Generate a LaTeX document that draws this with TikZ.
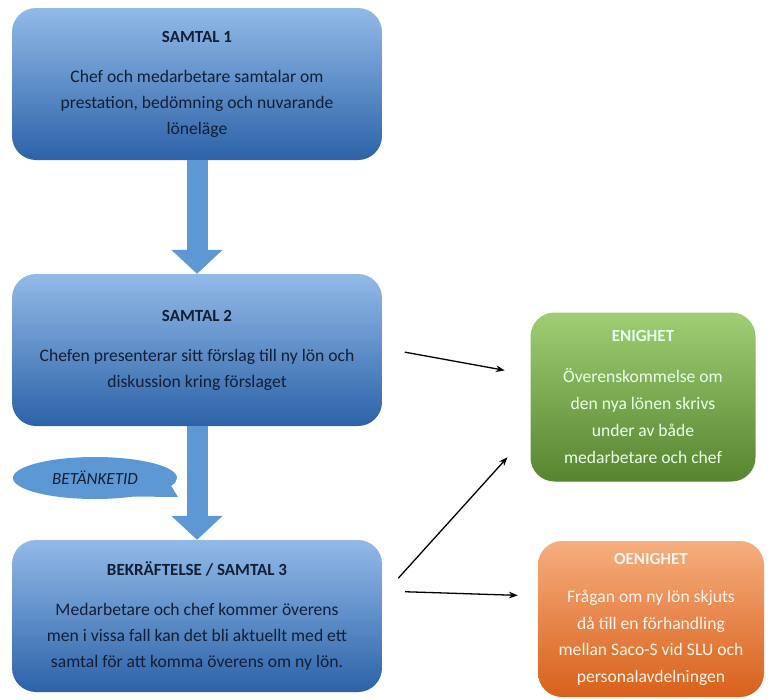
\documentclass[tikz,border=0pt]{standalone}
\usepackage{fontspec}
\setmainfont{Carlito}
\usetikzlibrary{arrows.meta, positioning, shapes.callouts}
\definecolor{mytop}{RGB}{146,186,232}
\definecolor{mybot}{RGB}{44,98,168}
\definecolor{mynavy}{RGB}{20,30,52}
\definecolor{myarrow}{RGB}{93,152,212}
\definecolor{grntop}{RGB}{160,206,116}
\definecolor{grnbot}{RGB}{86,132,48}
\definecolor{orgtop}{RGB}{246,174,126}
\definecolor{orgbot}{RGB}{216,96,26}
\newcommand{\hd}[1]{{\fontsize{17}{26}\selectfont\bfseries #1}}
\tikzset{
  block/.style={rectangle, top color=mytop, bottom color=mybot,
    text=mynavy, minimum width=370pt, minimum height=152pt,
    align=center, font=\fontsize{17.6}{26}\selectfont, rounded corners=24pt},
  greenblock/.style={rectangle, top color=grntop, bottom color=grnbot,
    text=white!92!green, minimum width=225pt, minimum height=169pt,
    align=center, font=\fontsize{17.6}{27}\selectfont, rounded corners=24pt},
  orangeblock/.style={rectangle, top color=orgtop, bottom color=orgbot,
    text=white!92!orange, minimum width=226pt, minimum height=156pt,
    align=center, font=\fontsize{17.6}{26.5}\selectfont, rounded corners=24pt},
  blockarrow/.style={line width=21pt, draw=myarrow,
    -{Triangle[length=24pt, width=50pt]}},
  arrow/.style={-Stealth, line width=1.3pt, color=black}
}
\begin{document}
\begin{tikzpicture}[x=1pt, y=-1pt]
  \useasboundingbox (0,0) rectangle (771,699);

  \node[block] (s1) at (197,84) {\hd{SAMTAL 1}\\[14pt]
    Chef och medarbetare samtalar om\\
    prestation, bedömning och nuvarande\\
    löneläge};
  \node[block] (s2) at (197,350) {\hd{SAMTAL 2}\\[14pt]
    Chefen presenterar sitt förslag till ny lön och\\
    diskussion kring förslaget};
  \node[block] (s3) at (197,616) {\hd{BEKRÄFTELSE / SAMTAL 3}\\[14pt]
    Medarbetare och chef kommer överens\\
    men i vissa fall kan det bli aktuellt med ett\\
    samtal för att komma överens om ny lön.};

  \node[greenblock] (enig) at (643,397) {\hd{ENIGHET}\\[14pt]
    Överenskommelse om\\
    den nya lönen skrivs\\
    under av både\\
    medarbetare och chef};
  \node[orangeblock] (oenig) at (651,619) {\hd{OENIGHET}\\[12pt]
    Frågan om ny lön skjuts\\
    då till en förhandling\\
    mellan Saco-S vid SLU och\\
    personalavdelningen};

  % block arrows between the talks
  \draw[blockarrow] (s1.south) -- (s2.north);
  \draw[blockarrow] (s2.south) -- (s3.north);

  \coordinate (tidpt) at (178,497);
  \node[ellipse callout, callout absolute pointer={(tidpt)}, callout pointer arc=40,
    fill=myarrow, minimum width=164pt, minimum height=42pt, inner sep=0pt,
    text=mynavy, font=\fontsize{17}{20}\selectfont\itshape] (tid) at (95,478) {BETÄNKETID};

  % outcomes
  \draw[arrow, shorten <=23pt, shorten >=26pt] ([yshift=2pt]s2.east) -- ([yshift=22pt]enig.west);
  \draw[arrow, shorten <=24pt, shorten >=34pt] ([yshift=20pt]s3.east) -- ([yshift=-35pt]enig.west);
  \draw[arrow, shorten <=23pt, shorten >=20pt] ([yshift=25pt]s3.east) -- ([yshift=23pt]oenig.west);
\end{tikzpicture}
\end{document}
